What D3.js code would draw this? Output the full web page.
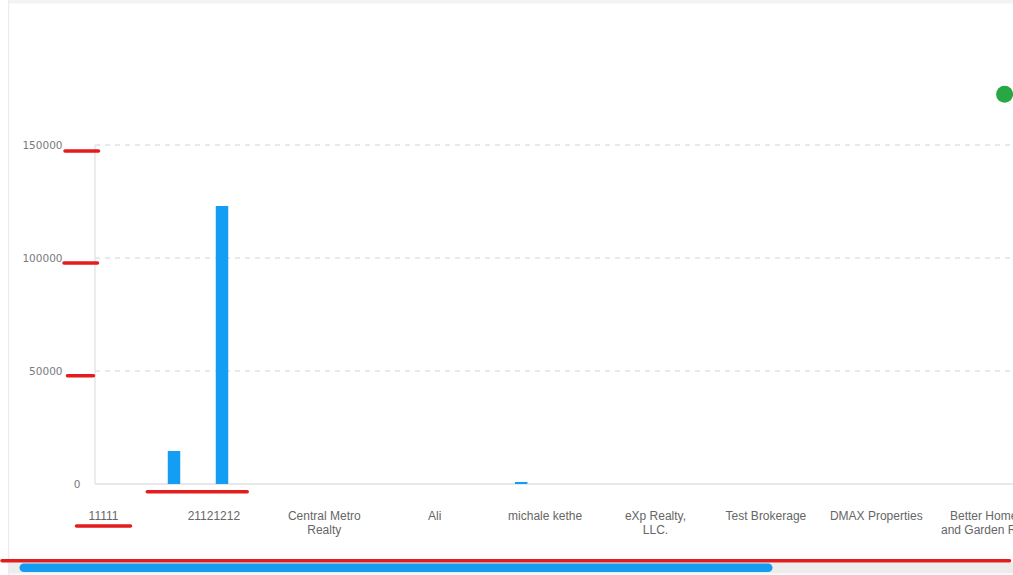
<!DOCTYPE html>
<html>
<head>
<meta charset="utf-8">
<script src="https://cdn.jsdelivr.net/npm/d3@7/dist/d3.min.js"></script>
<style>
    html, body { margin: 0; padding: 0; background: #fff; overflow: hidden; }
    svg { display: block; }
</style>
</head>
<body>
<svg id="chart"></svg>
<script>
const categories = ['11111', '21121212', 'Central Metro Realty', 'Ali', 'michale kethe',
    'eXp Realty, LLC.', 'Test Brokerage', 'DMAX Properties', 'Better Homes and Garden Real Estate'];
const tickLabels = [['11111'], ['21121212'], ['Central Metro', 'Realty'], ['Ali'], ['michale kethe'],
    ['eXp Realty,', 'LLC.'], ['Test Brokerage'], ['DMAX Properties'], ['Better Homes', 'and Garden Real']];
const seriesKeys = ['s0', 's1', 's2', 's3'];
const seriesS0 = [0, 14600, 0, 0, 0, 0, 0, 0, 0];
const seriesS1 = [0, 0, 0, 0, 900, 0, 0, 0, 0];
const seriesS2 = [0, 0, 0, 0, 0, 0, 0, 0, 0];
const seriesS3 = [0, 123000, 0, 0, 0, 0, 0, 0, 0];
const pointValues = [null, null, null, null, null, null, null, null, 172500];
const yTicks = [0, 50000, 100000, 150000];

function drawFrame(settings) {
    let svg = settings.d3svg;
    // card edges
    svg.append('rect').attr('x', 8).attr('y', 0).attr('width', settings.width).attr('height', 3.5)
        .attr('fill', '#f3f3f3');
    svg.append('rect').attr('x', 8).attr('y', 0).attr('width', 1.2).attr('height', settings.height)
        .attr('fill', '#ececec');
}

function prepareScales(settings) {
    settings.x = d3.scaleBand()
        .domain(categories)
        .range([settings.bandStart, settings.bandStart + categories.length * settings.step]);
    settings.sub = d3.scaleBand()
        .domain(seriesKeys)
        .range([7.3, 71.3])
        .paddingInner(0.22)
        .paddingOuter(0.11);
    settings.y = d3.scaleLinear()
        .domain([0, 150000])
        .range([settings.plotBottom, settings.plotTop]);
    settings.xPoint = d3.scalePoint()
        .domain(categories)
        .range([settings.plotLeft, settings.plotLeft + (categories.length - 1) * settings.pointStep]);
}

function drawAxis(settings) {
    let g = settings.g;
    let y = settings.y;

    g.selectAll('.grid')
        .data(yTicks.filter(function (d) { return d > 0; }))
        .enter().append('line')
        .attr('class', 'grid')
        .attr('x1', settings.plotLeft)
        .attr('x2', settings.width)
        .attr('y1', function (d) { return y(d); })
        .attr('y2', function (d) { return y(d); })
        .style('stroke', '#e2e2e2')
        .style('stroke-width', 1.5)
        .style('stroke-dasharray', '5,5');

    g.append('line')
        .attr('x1', settings.plotLeft).attr('x2', settings.plotLeft)
        .attr('y1', y(150000)).attr('y2', y(0))
        .style('stroke', '#e6e6e6').style('stroke-width', 1.5);

    g.append('line')
        .attr('x1', settings.plotLeft).attr('x2', settings.width)
        .attr('y1', y(0)).attr('y2', y(0))
        .style('stroke', '#e8e8e8').style('stroke-width', 2);

    // the zero label sits closer to the axis than the others
    g.selectAll('.y-label')
        .data(yTicks).enter().append('text')
        .attr('class', 'y-label')
        .attr('x', function (d) { return d === 0 ? 80.5 : 62.5; })
        .attr('y', function (d) { return y(d); })
        .attr('dy', function (d) { return d === 0 ? '0.42em' : '0.36em'; })
        .attr('text-anchor', 'end')
        .style('font-family', '"DejaVu Sans", sans-serif')
        .style('font-size', '10.5px')
        .style('fill', '#7b7b7b')
        .text(function (d) { return d; });

    let labels = g.selectAll('.x-label')
        .data(categories).enter().append('text')
        .attr('class', 'x-label')
        .attr('text-anchor', 'middle')
        .style('font-family', '"Liberation Sans", Arial, sans-serif')
        .style('font-size', '12px')
        .style('fill', '#666');
    labels.each(function (d, i) {
        let t = d3.select(this);
        tickLabels[i].forEach(function (line, j) {
            t.append('tspan')
                .attr('x', settings.x(d) + settings.x.bandwidth() / 2)
                .attr('y', 520 + j * 13.7)
                .text(line);
        });
    });
}

function drawBars(settings) {
    let series = [
        { key: 's0', values: seriesS0 },
        { key: 's1', values: seriesS1 },
        { key: 's2', values: seriesS2 },
        { key: 's3', values: seriesS3 }
    ];
    let bars = [];
    series.forEach(function (s) {
        s.values.forEach(function (v, i) {
            if (v > 0) {
                bars.push({ key: s.key, category: categories[i], value: v });
            }
        });
    });

    settings.g.selectAll('.bar')
        .data(bars).enter().append('rect')
        .attr('class', 'bar')
        .attr('x', function (d) { return settings.x(d.category) + settings.sub(d.key); })
        .attr('width', settings.sub.bandwidth())
        .attr('y', function (d) { return settings.y(d.value); })
        .attr('height', function (d) { return settings.y(0) - settings.y(d.value); })
        .attr('fill', '#139df3');

    let points = pointValues
        .map(function (v, i) { return { category: categories[i], value: v }; })
        .filter(function (d) { return d.value !== null; });

    settings.g.selectAll('.dot')
        .data(points).enter().append('circle')
        .attr('class', 'dot')
        .attr('cx', function (d) { return settings.xPoint(d.category); })
        .attr('cy', function (d) { return settings.y(d.value); })
        .attr('r', 8.5)
        .attr('fill', '#27a844');
}

function drawScrollbar(settings) {
    let svg = settings.d3svg;
    svg.append('rect').attr('x', 9).attr('y', 562.5).attr('width', settings.width).attr('height', 10.5)
        .attr('fill', '#ededed');
    svg.append('rect').attr('x', 9).attr('y', 573).attr('width', settings.width).attr('height', 2)
        .attr('fill', '#f6f7f9');
    svg.append('rect').attr('x', 19.5).attr('y', 563.5).attr('width', 753).attr('height', 8.5)
        .attr('rx', 4.25).attr('fill', '#139cf0');
}

function drawMarks(settings) {
    // hand drawn red annotations on top of the chart
    let y = settings.y;
    let x = settings.x;
    let red = settings.d3svg.append('g')
        .style('stroke', '#e31c1c')
        .style('stroke-width', 3.5)
        .style('stroke-linecap', 'round');
    let marks = [
        [65, y(150000) + 6, 98.5, y(150000) + 6],
        [64, y(100000) + 5, 97.5, y(100000) + 5],
        [67.5, y(50000) + 4.7, 93.5, y(50000) + 4.7],
        [x(categories[0]) + 99, y(0) + 7.8, x(categories[1]) + 88.5, y(0) + 7.8],
        [76.5, 526, 130.5, 526],
        [2, 560.8, 1009.5, 560.8]
    ];
    red.selectAll('line')
        .data(marks).enter().append('line')
        .attr('x1', function (d) { return d[0]; })
        .attr('y1', function (d) { return d[1]; })
        .attr('x2', function (d) { return d[2]; })
        .attr('y2', function (d) { return d[3]; });
}

function drawChart(settings) {
    settings.d3svg = d3.select('#' + settings.id)
        .attr('width', settings.width)
        .attr('height', settings.height);
    drawFrame(settings);
    settings.g = settings.d3svg.append('g');
    prepareScales(settings);
    drawAxis(settings);
    drawBars(settings);
    drawScrollbar(settings);
    drawMarks(settings);
}

drawChart({
    id: 'chart',
    width: 1013,
    height: 575,
    plotLeft: 95,
    plotTop: 145,
    plotBottom: 484,
    bandStart: 48.3,
    step: 110.4,
    pointStep: 113.7
});
</script>
</body>
</html>
